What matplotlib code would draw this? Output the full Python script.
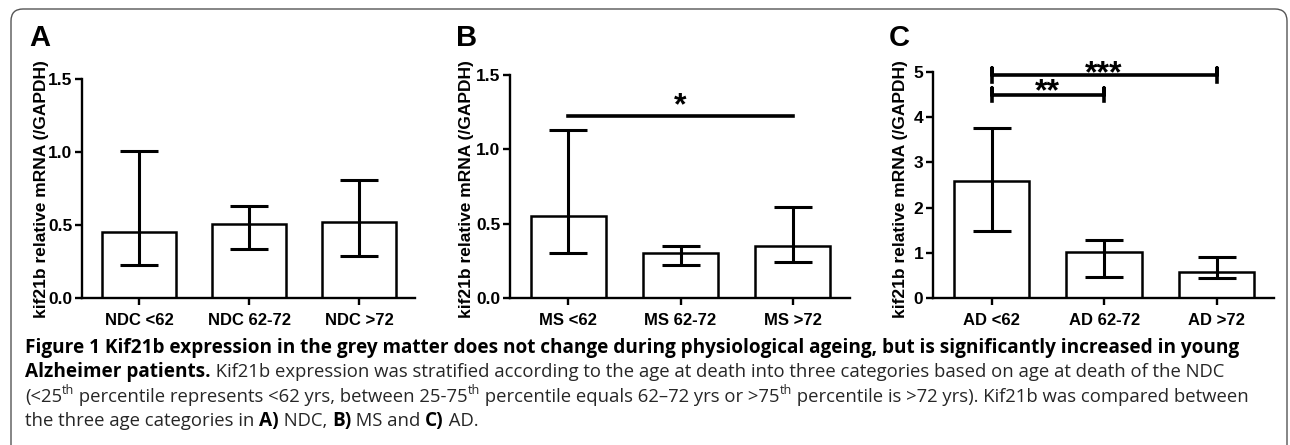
import matplotlib
matplotlib.use('Agg')
import matplotlib.pyplot as plt
from matplotlib.patches import FancyBboxPatch
from matplotlib.transforms import IdentityTransform

plt.rcParams['font.family'] = ['Liberation Sans', 'DejaVu Sans']
plt.rcParams['font.weight'] = 'bold'

# Data (median with interquartile range)
ndc_labels = ['NDC <62', 'NDC 62-72', 'NDC >72']
ndc_mid = [0.45, 0.51, 0.52]
ndc_low = [0.225, 0.335, 0.29]
ndc_high = [1.01, 0.63, 0.81]

ms_labels = ['MS <62', 'MS 62-72', 'MS >72']
ms_mid = [0.55, 0.30, 0.35]
ms_low = [0.30, 0.22, 0.24]
ms_high = [1.13, 0.35, 0.61]

ad_labels = ['AD <62', 'AD 62-72', 'AD >72']
ad_mid = [2.58, 1.01, 0.58]
ad_low = [1.49, 0.46, 0.44]
ad_high = [3.77, 1.29, 0.90]

ylabel = 'kif21b relative mRNA (/GAPDH)'

W, H = 1290, 445
fig = plt.figure(figsize=(W / 100, H / 100), dpi=100)


def px_axes(left, right, top, bottom):
    return fig.add_axes([left / W, 1 - bottom / H, (right - left) / W,
                         (bottom - top) / H])


def bar_panel(ax, labels, mid, low, high, ymax, yticks, fmt):
    x = list(range(len(labels)))
    ax.bar(x, mid, width=0.67, color='white', edgecolor='black',
           linewidth=1.8, zorder=2)
    err = [[m - l for m, l in zip(mid, low)],
           [h - m for h, m in zip(high, mid)]]
    ax.errorbar(x, mid, yerr=err, fmt='none', ecolor='black',
                elinewidth=2.2, capsize=14, capthick=2.2, zorder=3)
    ax.set_xlim(-0.52, len(labels) - 0.49)
    ax.set_ylim(0, ymax)
    ax.set_xticks(x)
    ax.set_xticklabels(labels, fontsize=12, fontweight='bold')
    ax.set_yticks(yticks)
    ax.set_yticklabels([fmt.format(t) for t in yticks], fontsize=12.5,
                       fontweight='bold')
    for s in ['top', 'right']:
        ax.spines[s].set_visible(False)
    for s in ['left', 'bottom']:
        ax.spines[s].set_linewidth(1.7)
    ax.tick_params(axis='both', direction='out', length=5, width=1.7,
                   pad=2)
    ax.tick_params(axis='x', pad=6)


axA = px_axes(82, 415, 79, 298)
bar_panel(axA, ndc_labels, ndc_mid, ndc_low, ndc_high, 1.5,
          [0, 0.5, 1.0, 1.5], '{:.1f}')

axB = px_axes(510, 850, 75, 298)
bar_panel(axB, ms_labels, ms_mid, ms_low, ms_high, 1.5,
          [0, 0.5, 1.0, 1.5], '{:.1f}')
axB.plot([0, 2], [1.227, 1.227], color='black', lw=2.6, clip_on=False)
axB.text(1, 1.233, '*', ha='center', va='baseline', fontsize=23,
         fontweight='bold')

axC = px_axes(933, 1274, 72, 298)
bar_panel(axC, ad_labels, ad_mid, ad_low, ad_high, 5,
          [0, 1, 2, 3, 4, 5], '{:.0f}')
for (x0, x1), yb, ys, stars in [((0, 2), 4.93, 4.78, '***'),
                                ((0, 1), 4.5, 4.37, '**')]:
    axC.plot([x0, x0, x0, x1, x1, x1],
             [yb - 0.15, yb + 0.15, yb, yb, yb + 0.15, yb - 0.15],
             color='black', lw=2.6, clip_on=False)
    axC.text((x0 + x1) / 2, ys, stars, ha='center', va='baseline',
             fontsize=23, fontweight='bold')

# panel letters and y labels
for xl, letter in [(29, 'A'), (456, 'B'), (889, 'C')]:
    fig.text(xl / W, 1 - 24 / H, letter, fontsize=21, fontweight='bold',
             ha='left', va='top')
for xc in [42, 466, 900]:
    fig.text(xc / W, 1 - 189 / H, ylabel, rotation=90, fontsize=12.5,
             fontweight='bold', ha='center', va='center')

# rounded frame
frame = FancyBboxPatch((11, -20), 1276, H - 9 + 20,
                       boxstyle='round,pad=0,rounding_size=12',
                       transform=IdentityTransform(), facecolor='none',
                       edgecolor='#555555', linewidth=1.0)
fig.add_artist(frame)

# caption
cap_font = ['Open Sans', 'DejaVu Sans']
bold_size = 13.65
norm_size = 13.3

caption_lines = [
    [('Figure 1 Kif21b expression in the grey matter does not change during '
      'physiological ageing, but is significantly increased in young', 'b')],
    [('Alzheimer patients.', 'b'),
     (' Kif21b expression was stratified according to the age at death into '
      'three categories based on age at death of the NDC', 'n')],
    [('(<25', 'n'), ('th', 's'),
     (' percentile represents <62 yrs, between 25-75', 'n'), ('th', 's'),
     (' percentile equals 62\u201372 yrs or >75', 'n'), ('th', 's'),
     (' percentile is >72 yrs). Kif21b was compared between', 'n')],
    [('the three age categories in ', 'n'), ('A)', 'b'), (' NDC, ', 'n'),
     ('B)', 'b'), (' MS and ', 'n'), ('C)', 'b'), (' AD.', 'n')],
]
baselines = [353, 377, 402, 426]
sizes = {'b': bold_size, 'n': norm_size, 's': norm_size * 0.68}

for segs, yb in zip(caption_lines, baselines):
    prev = None
    base = H - yb
    for text, style in segs:
        kw = dict(family=cap_font, color='black' if style == 'b' else '#262626',
                  fontweight='bold' if style == 'b' else 'normal',
                  fontsize=sizes[style], ha='left', va='baseline')
        if prev is None:
            t = fig.text(25 / W, base / H, text, **kw)
        else:
            yy = base + 8 if style == 's' else base
            t = axA.annotate(text, xy=(1, yy), xycoords=(prev, 'figure pixels'),
                             annotation_clip=False, **kw)
        prev = t

fig.savefig('out.png', dpi=100)
